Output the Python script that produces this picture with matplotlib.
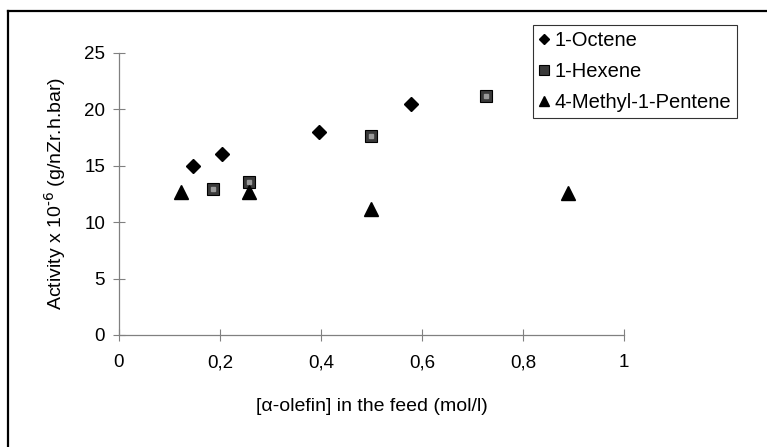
import matplotlib
matplotlib.use("Agg")
import matplotlib.pyplot as plt
from matplotlib.lines import Line2D
from matplotlib.ticker import FuncFormatter

plt.rcParams["font.family"] = ["Liberation Sans", "DejaVu Sans"]
plt.rcParams["mathtext.default"] = "regular"

# data
octene_x = [0.147, 0.204, 0.397, 0.578]
octene_y = [15.0, 16.05, 18.0, 20.45]

hexene_x = [0.186, 0.258, 0.499, 0.727]
hexene_y = [12.95, 13.55, 17.65, 21.15]

methylpentene_x = [0.123, 0.258, 0.500, 0.889]
methylpentene_y = [12.65, 12.65, 11.15, 12.6]

x_ticks = [0, 0.2, 0.4, 0.6, 0.8, 1]
y_ticks = [0, 5, 10, 15, 20, 25]

fig = plt.figure(figsize=(7.67, 4.47), dpi=100)
ax = fig.add_axes([0.1551, 0.2506, 0.6584, 0.6309])

ax.plot(octene_x, octene_y, linestyle="none", marker="D", markersize=6.8,
        color="black", label="1-Octene", clip_on=False)
ax.plot(hexene_x, hexene_y, linestyle="none", marker="s", markersize=8.5,
        markerfacecolor="#3a3a3a", markeredgecolor="black", markeredgewidth=0.8,
        label="1-Hexene", clip_on=False)
# light speckled centre of the square markers
ax.plot(hexene_x, hexene_y, linestyle="none", marker="s", markersize=3.5,
        markerfacecolor="#9a9a9a", markeredgecolor="#9a9a9a", clip_on=False)
ax.plot(methylpentene_x, methylpentene_y, linestyle="none", marker="^",
        markersize=9.5, color="black", label="4-Methyl-1-Pentene", clip_on=False)

ax.set_xlim(0, 1)
ax.set_ylim(0, 25)
ax.set_xticks(x_ticks)
ax.set_yticks(y_ticks)
ax.xaxis.set_major_formatter(FuncFormatter(lambda v, p: ("%g" % v).replace(".", ",")))

for side in ["top", "right"]:
    ax.spines[side].set_visible(False)
for side in ["left", "bottom"]:
    ax.spines[side].set_color("#808080")
    ax.spines[side].set_linewidth(0.9)
ax.tick_params(direction="inout", length=8, width=0.8, color="#808080",
               labelsize=13.5, labelcolor="black")
ax.tick_params(axis="x", pad=10)
ax.tick_params(axis="y", pad=6)

ax.set_xlabel("[α-olefin] in the feed (mol/l)", fontsize=14)
ax.xaxis.set_label_coords(0.5, -0.225)
ax.set_ylabel(r"Activity x 10$^{\text{-6}}$ (g/nZr.h.bar)", fontsize=14)
ax.yaxis.set_label_coords(-0.1, 0.5)

h, l = ax.get_legend_handles_labels()
leg = fig.legend(h, l, loc="upper right", bbox_to_anchor=(0.961, 0.944),
                 fontsize=14.5, frameon=True, fancybox=False, handlelength=0.5,
                 handletextpad=0.25, borderpad=0.3, labelspacing=0.6,
                 markerscale=0.8, borderaxespad=0)
leg.get_frame().set_edgecolor("black")
leg.get_frame().set_linewidth(0.8)

# outer chart frame (top and left edges only show in the scan)
fig.add_artist(Line2D([0.011, 1.0], [0.975, 0.975], color="black", lw=1.6))
fig.add_artist(Line2D([0.011, 0.011], [0.0, 0.975], color="black", lw=1.6))

fig.savefig("out.png", dpi=100)
